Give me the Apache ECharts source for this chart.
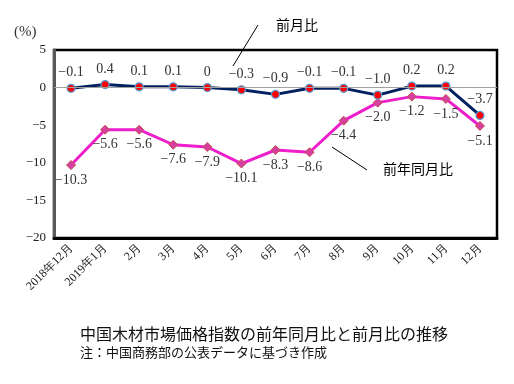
<!DOCTYPE html>
<html><head><meta charset="utf-8">
<script src="https://cdn.jsdelivr.net/npm/echarts@6/dist/echarts.min.js"></script>
<style>html,body{margin:0;padding:0;background:#fff}#c{width:514px;height:384px}</style>
</head><body><div id="c"></div>
<script>
var categories = ['2018年12月','2019年1月','2月','3月','4月','5月','6月','7月','8月','9月','10月','11月','12月'];
var momValues = [-0.1, 0.4, 0.1, 0.1, 0, -0.3, -0.9, -0.1, -0.1, -1.0, 0.2, 0.2, -3.7];
var yoyValues = [-10.3, -5.6, -5.6, -7.6, -7.9, -10.1, -8.3, -8.6, -4.4, -2.0, -1.2, -1.5, -5.1];
var yTicks = [-20, -15, -10, -5, 0, 5];
var momName = '前月比';
var yoyName = '前年同月比';
var titleText = '中国木材市場価格指数の前年同月比と前月比の推移';
var noteText = '注：中国商務部の公表データに基づき作成';

var serif = '"Liberation Serif","DejaVu Serif",serif';
var sans = '"Noto Sans CJK JP","Noto Sans",sans-serif';
function fmt(p){ var v = p.value; if (Array.isArray(v)) v = v[1]; return v === 0 ? '0' : v.toFixed(1).replace('-', '\u2212'); }

var chart = echarts.init(document.getElementById('c'));
chart.setOption({
  animation: false,
  backgroundColor: '#fff',
  grid: { left: 54, right: 17, top: 50, bottom: 146, show: true, borderColor: '#000', borderWidth: 2.5, backgroundColor: 'transparent' },
  xAxis: {
    type: 'category', data: categories, boundaryGap: true,
    axisLine: { onZero: false, lineStyle: { color: '#000', width: 3 } },
    axisTick: { show: false },
    axisLabel: { rotate: 45, fontFamily: serif, fontSize: 12, color: '#222', margin: 8, interval: 0 }
  },
  yAxis: {
    type: 'value', min: yTicks[0], max: yTicks[yTicks.length-1], interval: 5,
    axisLine: { show: true, lineStyle: { color: '#595959', width: 3 } },
    axisTick: { show: false },
    splitLine: { show: false },
    axisLabel: { fontFamily: serif, fontSize: 13, color: '#222', margin: 8,
      formatter: function(v){ return String(v).replace('-', '\u2212'); } }
  },
  series: [
    {
      name: yoyName, type: 'line', data: yoyValues, z: 3,
      lineStyle: { color: '#ee1ecb', width: 3 },
      symbol: 'diamond', symbolSize: 9,
      itemStyle: { color: '#d63fa0', borderColor: '#c0504d', borderWidth: 1 },
      label: { show: true, position: 'bottom', distance: 3, formatter: fmt, fontFamily: serif, fontSize: 14, color: '#333' },
      markLine: { silent: true, symbol: 'none', label: { show: false },
        lineStyle: { color: '#a0a0a0', width: 1, type: 'solid' }, data: [{ yAxis: 0 }] }
    },
    {
      name: momName, type: 'line', data: momValues, z: 4,
      lineStyle: { color: '#002060', width: 3 },
      symbol: 'circle', symbolSize: 8,
      itemStyle: { color: '#ff0000', borderColor: '#5b9bd5', borderWidth: 1.2 },
      label: { show: true, position: 'top', distance: 4, formatter: fmt, fontFamily: serif, fontSize: 14, color: '#333' }
    }
  ],
  graphic: [
    { type: 'text', left: 14, top: 25, style: { text: '(%)', font: '15px ' + serif, fill: '#333' } },
    { type: 'line', shape: { x1: 233, y1: 66, x2: 258, y2: 25 }, style: { stroke: '#000', lineWidth: 1 } },
    { type: 'text', left: 276, top: 18, style: { text: momName, font: '14px ' + sans, fill: '#000' } },
    { type: 'line', shape: { x1: 332, y1: 147, x2: 367, y2: 170 }, style: { stroke: '#000', lineWidth: 1 } },
    { type: 'text', left: 383, top: 162, style: { text: yoyName, font: '14px ' + sans, fill: '#000' } },
    { type: 'text', left: 80, top: 326, style: { text: titleText, font: '16px ' + sans, fill: '#111' } },
    { type: 'text', left: 80, top: 346, style: { text: noteText, font: '13px ' + sans, fill: '#111' } }
  ]
});
</script></body></html>
